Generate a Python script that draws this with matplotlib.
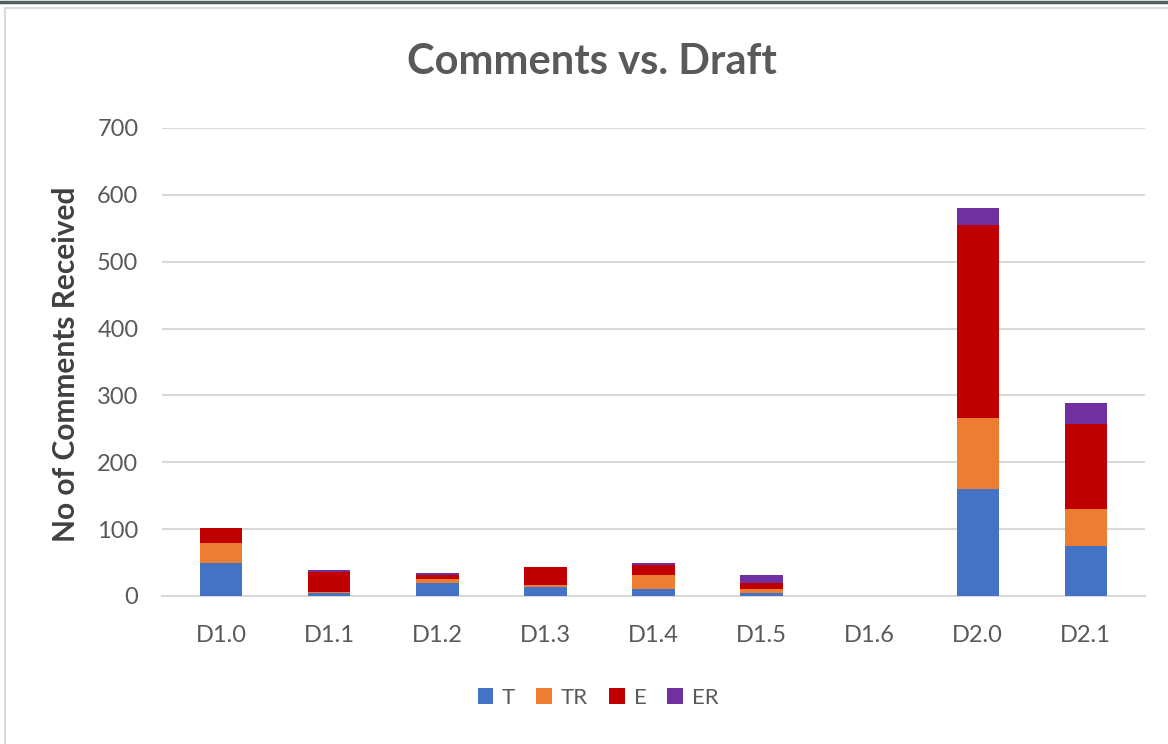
import matplotlib
matplotlib.use("Agg")
import matplotlib.pyplot as plt
from matplotlib.patches import Rectangle
from matplotlib.lines import Line2D
import numpy as np

categories = ["D1.0", "D1.1", "D1.2", "D1.3", "D1.4", "D1.5", "D1.6", "D2.0", "D2.1"]
T  = [50, 5, 20, 13, 10, 5, 0, 160, 75]
TR = [30, 1, 5, 4, 21, 5, 0, 106, 55]
E  = [21, 30, 7, 26, 15, 10, 0, 289, 128]
ER = [0, 3, 3, 0, 4, 11, 0, 26, 30]
series_names = ["T", "TR", "E", "ER"]
colors = ["#4472C4", "#ED7D31", "#C00000", "#7030A0"]

plt.rcParams['font.family'] = ['Lato', 'DejaVu Sans']
W, H = 1168, 744
fig = plt.figure(figsize=(W/100, H/100), dpi=100)
fig.patch.set_facecolor("white")

# frame decorations
fig.add_artist(Line2D([0, 1], [1 - 1.5/H, 1 - 1.5/H], transform=fig.transFigure,
                      color="#50605f", lw=2.5))
fig.add_artist(Rectangle((5/W, -0.01), 1.02 - 5/W, (H - 8)/H + 0.01, transform=fig.transFigure,
                         facecolor="none", edgecolor="#d9d9d9", lw=1.5))

ax = fig.add_axes([162/W, 1 - 596/H, (1145-162)/W, (596-128)/H])
x = np.arange(len(categories))
bottom = np.zeros(len(categories))
for vals, name, c in zip([T, TR, E, ER], series_names, colors):
    ax.bar(x, vals, width=0.39, bottom=bottom, color=c, label=name, zorder=3)
    bottom += np.array(vals)

ax.set_xlim(-0.55, len(categories) - 0.45)
ax.set_ylim(0, 700)
ax.set_yticks(range(0, 701, 100))
ax.set_xticks(x)
ax.set_xticklabels(categories)
ax.yaxis.grid(True, color="#d9d9d9", lw=1.5, zorder=0)
for s in ["top", "right", "left"]:
    ax.spines[s].set_visible(False)
ax.spines["bottom"].set_color("#d9d9d9")
ax.spines["bottom"].set_linewidth(1.5)
ax.tick_params(axis="both", length=0, colors="#595959", labelsize=17)
ax.tick_params(axis="x", pad=21)
ax.tick_params(axis="y", pad=17)

fig.text(66/W, 1 - 364/H, "No of Comments Received", rotation=90, ha="center", va="center",
         fontsize=21.5, fontweight="bold", color="#404040")

fig.text(592/W, 1 - 62/H, "Comments vs. Draft", ha="center", va="center",
         fontsize=30, fontweight="bold", color="#595959")

fig.legend(loc="center", bbox_to_anchor=(598/W, 1 - 698/H), ncol=4, frameon=False,
           fontsize=16, handlelength=0.7, handleheight=0.7, handletextpad=0.4,
           columnspacing=0.95, labelcolor="#595959")

fig.savefig("out.png", dpi=100, facecolor="white")
